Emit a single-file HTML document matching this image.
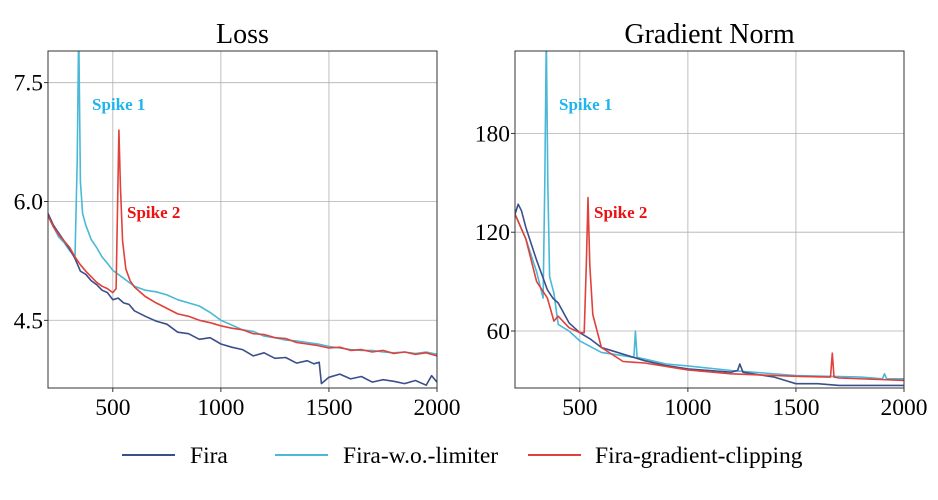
<!DOCTYPE html>
<html><head><meta charset="utf-8"><style>
html,body{margin:0;padding:0;background:#fff;}
svg{display:block;font-family:"Liberation Serif",serif;}
</style></head><body>
<svg id="chart" width="938" height="500" viewBox="0 0 938 500">
<defs>
<clipPath id="clipL"><rect x="48" y="51" width="389" height="337"/></clipPath>
<clipPath id="clipR"><rect x="515" y="51" width="389" height="337"/></clipPath>
</defs>
<g id="gL"></g>
<g id="gR"></g>
<g>
<g><line x1="122" y1="455" x2="175" y2="455" stroke="#3b4f8a" stroke-width="2"/><text x="190" y="463" font-size="23.5">Fira</text></g>
<g><line x1="275" y1="455" x2="328" y2="455" stroke="#4bb8d8" stroke-width="2"/><text x="343" y="463" font-size="23.5">Fira-w.o.-limiter</text></g>
<g><line x1="528" y1="455" x2="581" y2="455" stroke="#e0413a" stroke-width="2"/><text x="595" y="463" font-size="23.5">Fira-gradient-clipping</text></g>
</g>
</svg>
<script>
const xTicks = [500,1000,1500,2000];
const lossYTicks = [4.5,6.0,7.5];
const lossYLabels = ["4.5","6.0","7.5"];
const gradYTicks = [60,120,180];
const gradYLabels = ["60","120","180"];

const lossFiraX = [200,225,250,275,300,325,350,375,400,425,450,475,500,525,550,575,600,650,700,750,800,850,900,950,1000,1050,1100,1150,1200,1250,1300,1350,1400,1430,1455,1465,1500,1550,1600,1650,1700,1750,1800,1850,1900,1950,1975,2000];
const lossFiraY = [5.85,5.7,5.6,5.5,5.4,5.28,5.12,5.08,5.0,4.95,4.88,4.85,4.76,4.78,4.72,4.7,4.62,4.55,4.49,4.45,4.35,4.33,4.26,4.28,4.2,4.16,4.13,4.05,4.09,4.02,4.03,3.96,3.99,3.95,3.97,3.7,3.78,3.82,3.76,3.79,3.72,3.75,3.73,3.7,3.74,3.68,3.8,3.72];
const lossWoX = [200,225,250,275,300,325,335,342,350,360,375,400,425,450,475,500,525,550,575,600,650,700,750,800,850,900,950,1000,1050,1100,1150,1200,1250,1300,1350,1400,1450,1500,1550,1600,1650,1700,1750,1800,1850,1900,1950,2000];
const lossWoY = [5.82,5.68,5.55,5.48,5.38,5.3,6.5,8.2,6.25,5.85,5.7,5.52,5.42,5.3,5.22,5.13,5.08,5.03,4.98,4.93,4.88,4.86,4.82,4.76,4.72,4.68,4.6,4.5,4.44,4.38,4.36,4.3,4.28,4.25,4.24,4.22,4.2,4.17,4.15,4.13,4.12,4.12,4.1,4.09,4.1,4.08,4.1,4.07];
const lossClipX = [200,225,250,275,300,325,350,375,400,425,450,475,500,515,528,535,545,560,580,600,650,700,750,800,850,900,950,1000,1050,1100,1150,1200,1250,1300,1350,1400,1450,1500,1550,1600,1650,1700,1750,1800,1850,1900,1950,2000];
const lossClipY = [5.82,5.68,5.58,5.5,5.42,5.3,5.2,5.12,5.05,4.98,4.93,4.9,4.85,4.9,6.9,6.2,5.5,5.15,5.0,4.92,4.8,4.72,4.65,4.58,4.55,4.5,4.47,4.43,4.4,4.38,4.33,4.32,4.28,4.27,4.22,4.2,4.18,4.15,4.16,4.12,4.13,4.1,4.12,4.08,4.1,4.07,4.09,4.05];

const gradFiraX = [200,215,230,250,275,300,325,350,375,400,450,500,550,600,650,700,800,900,1000,1100,1200,1230,1240,1255,1300,1400,1500,1600,1700,1800,1900,2000];
const gradFiraY = [131,137,133,123,113,103,94,85,80,77,65,59,55,50,48,46,42,39,37,36,35,36,40,35,34,32,28,28,27,27,27,27];
const gradWoX = [200,250,300,330,338,345,352,360,380,400,450,500,600,700,750,757,765,800,900,1000,1200,1500,1800,1900,1910,1920,2000];
const gradWoY = [131,116,96,80,150,240,150,93,83,64,60,54,47,45,44,60,44,43,40,38.8,36,33,32,31,34,31,31];
const gradClipX = [200,250,300,350,380,400,450,500,520,530,538,546,560,600,700,800,1000,1200,1500,1650,1660,1668,1676,1700,2000];
const gradClipY = [131,116,90,80,66,69,62,59,59,100,141,100,70,50,41.5,40.6,36.4,34,32.5,32,32,46.5,32,31.5,30];

const NS = "http://www.w3.org/2000/svg";
function mk(tag, attrs, parent){const e=document.createElementNS(NS,tag);for(const k in attrs)e.setAttribute(k,attrs[k]);parent.appendChild(e);return e;}

function panel(g, left, title, xMin, xMax, yMin, yMax, yT, yL, series, clipId, spikes){
  const L=left, R=left+389, T=51, B=388;
  const sx = v => L + (v-xMin)/(xMax-xMin)*(R-L);
  const sy = v => B - (v-yMin)/(yMax-yMin)*(B-T);
  xTicks.forEach(t=>{
    const gl=mk('line',{x1:sx(t),x2:sx(t),y1:T,y2:B,stroke:'#b0b0b0','stroke-width':0.8},g);
    
    
    mk('line',{x1:sx(t),x2:sx(t),y1:B,y2:B+4,stroke:'#000','stroke-width':0.8},g);
    const tx=mk('text',{x:sx(t),y:B+27,'font-size':23.5,'text-anchor':'middle'},g);
    tx.textContent=t;
    
    
  });
  yT.forEach((t,i)=>{
    const gl=mk('line',{x1:L,x2:R,y1:sy(t),y2:sy(t),stroke:'#b0b0b0','stroke-width':0.8},g);
    
    
    mk('line',{x1:L-4,x2:L,y1:sy(t),y2:sy(t),stroke:'#000','stroke-width':0.8},g);
    const tx=mk('text',{x:L-5,y:sy(t)+8,'font-size':23.5,'text-anchor':'end'},g);
    tx.textContent=yL[i];
    
    
  });
  const lg=mk('g',{'clip-path':'url(#'+clipId+')'},g);
  series.forEach(s=>{
    let d='';
    const n=Math.min(s.x.length,s.y.length);
    for(let i=0;i<n;i++) d+=(i?'L':'M')+sx(s.x[i]).toFixed(1)+','+sy(s.y[i]).toFixed(1);
    const p=mk('path',{d:d,fill:'none',stroke:s.c,'stroke-width':1.6,'stroke-linejoin':'round'},lg);
    
    
  });
  const fr=mk('rect',{x:L,y:T,width:R-L,height:B-T,fill:'none',stroke:'#333','stroke-width':1},g);
  
  
  const tt=mk('text',{x:(L+R)/2,y:43,'font-size':28,'text-anchor':'middle'},g);
  tt.textContent=title;
  
  
  spikes.forEach(s=>{
    const t=mk('text',{x:s.x,y:s.y,'font-size':17,'font-weight':'bold',fill:s.c},g);
    t.textContent=s.t;
    
    
  });
}

panel(document.getElementById('gL'), 48, 'Loss', 200, 2000, 3.645, 7.9, lossYTicks, lossYLabels, [
  {x:lossWoX,y:lossWoY,c:'#4bb8d8',name:'loss-line-fira-wo-limiter'},
  {x:lossFiraX,y:lossFiraY,c:'#3b4f8a',name:'loss-line-fira'},
  {x:lossClipX,y:lossClipY,c:'#e0413a',name:'loss-line-fira-gradient-clipping'}
], 'clipL', [
  {x:92,y:110,t:'Spike 1',c:'#1eb4ee',name:'spike-1-label'},
  {x:127,y:218,t:'Spike 2',c:'#ee1111',name:'spike-2-label'}
]);
panel(document.getElementById('gR'), 515, 'Gradient Norm', 200, 2000, 25.4, 230, gradYTicks, gradYLabels, [
  {x:gradWoX,y:gradWoY,c:'#4bb8d8',name:'grad-line-fira-wo-limiter'},
  {x:gradFiraX,y:gradFiraY,c:'#3b4f8a',name:'grad-line-fira'},
  {x:gradClipX,y:gradClipY,c:'#e0413a',name:'grad-line-fira-gradient-clipping'}
], 'clipR', [
  {x:559,y:110,t:'Spike 1',c:'#1eb4ee',name:'spike-1-label'},
  {x:594,y:218,t:'Spike 2',c:'#ee1111',name:'spike-2-label'}
]);
</script>
</body></html>
